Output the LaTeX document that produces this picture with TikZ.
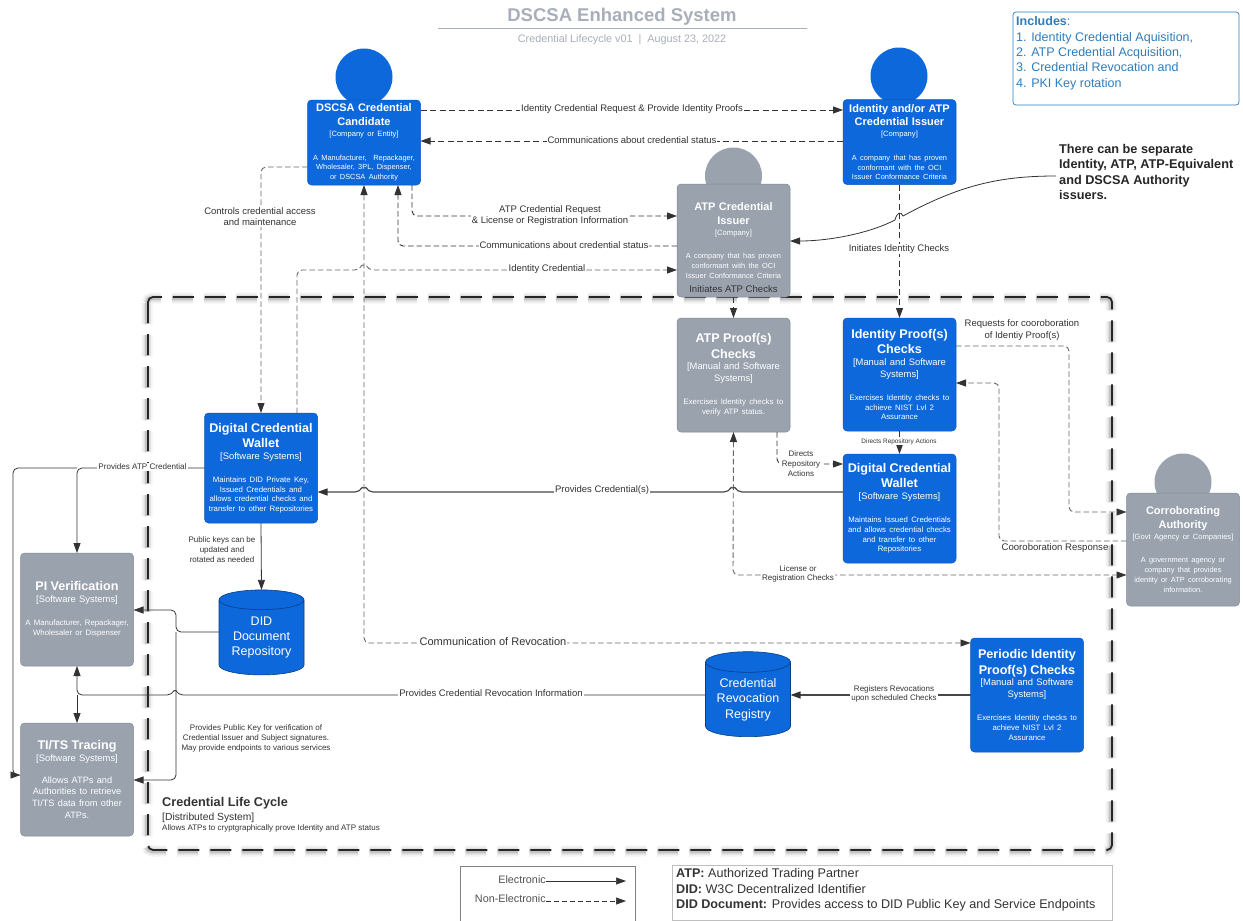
\documentclass[tikz,border=0pt]{standalone}
\usepackage{fontspec}
\setmainfont{Liberation Sans}
\usetikzlibrary{arrows.meta,shapes.geometric}
\definecolor{cblue}{HTML}{0D68DC}
\definecolor{cgray}{HTML}{9AA2AE}
\definecolor{cdark}{HTML}{333333}
\definecolor{cmid}{HTML}{666666}
\definecolor{ctitle}{HTML}{A8AFBA}
\definecolor{cinc}{HTML}{2F7DBB}
\newcommand\fs[2]{\fontsize{#1}{#2}\selectfont}
\newcommand\smbox[3]{{\fs{11}{13.4}\bfseries #1\par}{\fs{7.6}{11}#2\par}\vspace{14pt}{\fs{7.4}{9.7}#3\par}}
\newcommand\lgbox[3]{{\fs{12.6}{15.2}\bfseries #1\par}{\fs{9.4}{11.8}#2\par}\vspace{13.5pt}{\fs{7.8}{9.7}#3\par}}
\tikzset{
  x=1pt,y=-1pt,
  boxbase/.style={rectangle,rounded corners=4pt,text=white,align=center,inner sep=0pt,outer sep=0pt,text width=113pt},
  bluebox/.style={boxbase,fill=cblue,draw=cblue!85!black,line width=.5pt},
  graybox/.style={boxbase,fill=cgray,draw=cgray!85!black,line width=.5pt},
  bluehead/.style={ellipse,fill=cblue,minimum width=57pt,minimum height=57pt,inner sep=0pt},
  grayhead/.style={ellipse,fill=cgray,minimum width=57pt,minimum height=57pt,inner sep=0pt},
  store/.style={cylinder,shape border rotate=90,aspect=.33,fill=cblue,draw=cblue!60!black,line width=.6pt,text=white,align=center,inner sep=0pt,outer sep=0pt,font=\fs{12.5}{15.3}},
  darktip/.tip={Triangle[length=10pt,width=7pt,color=cdark,fill=cdark]},
  tipped/.style={-darktip},
  bothtip/.style={darktip-darktip},
  solidline/.style={draw=cdark,line width=.8pt,rounded corners=5pt},
  boldsolid/.style={draw=cmid!70!black,line width=1.2pt,rounded corners=5pt},
  dashline/.style={draw=cdark,line width=.9pt,dash pattern=on 6pt off 3.5pt,rounded corners=5pt},
  lightdash/.style={draw=cmid,line width=.9pt,dash pattern=on 5.5pt off 3pt,rounded corners=5pt},
  lab/.style={fill=white,text=cdark,align=center,inner sep=1pt,font=\fs{9.5}{11.2}},
  smalllab/.style={lab,font=\fs{8}{9.8}},
  plain/.style={text=cdark,align=left,inner sep=0pt},
}
\begin{document}
\begin{tikzpicture}
\useasboundingbox (0,0) rectangle (1243,921);
\fill[white] (0,0) rectangle (1243,921);
% title
\node[text=ctitle,font=\fs{18.5}{20}\bfseries] (title) at (622,16.5) {DSCSA Enhanced System};
\draw[ctitle,line width=.8pt] (438,28.5) -- (807,28.5);
\node[text=ctitle,font=\fs{10.8}{12}] (subtitle) at (622,39.5) {Credential Lifecycle v01\ \ |\ \ August 23, 2022};
% includes
\node[draw=cinc,rounded corners=3pt,line width=.7pt,minimum width=226pt,minimum height=93pt,inner sep=0pt] (includes) at (1126,58.5) {};
\node[text=cinc,align=left,anchor=north west,inner sep=0pt,font=\fs{12.5}{15.4}] (inctext) at (1016,16.5) {\textbf{Includes}:\\1. Identity Credential Aquisition,\\2. ATP Credential Acquisition,\\3. Credential Revocation and\\4. PKI Key rotation};
% note
\node[plain,anchor=north west,font=\fs{12.7}{15.4}\bfseries,text=black!85] (note) at (1059,144) {There can be separate\\Identity, ATP, ATP-Equivalent\\and DSCSA Authority\\issuers.};
% frame
\foreach \w/\o in {11/.05,7/.08,4/.12}
  \draw[black,opacity=\o,line width=\w pt,dash pattern=on 21pt off 11pt,rounded corners=5pt] (147,298) rectangle (1111,851);
\draw[black!85,line width=1.8pt,dash pattern=on 21pt off 11pt,rounded corners=5pt] (148,297) rectangle (1112,850);
% heads
\node[bluehead] (h1) at (364,77) {};
\node[bluehead] (h2) at (899,76) {};
\node[grayhead] (h3) at (733.5,176) {};
\node[grayhead] (h4) at (1183,482) {};
% boxes
\node[bluebox,minimum height=85pt] (cand) at (364,142.5) {\smbox{DSCSA Credential\\Candidate}{[Company or Entity]}{A Manufacturer,\ \ Repackager,\\Wholesaler, 3PL, Dispenser,\\or DSCSA Authority}};
\node[bluebox,minimum height=85pt] (issuer) at (899.5,142) {\smbox{Identity and/or ATP\\Credential Issuer}{[Company]}{A company that has proven\\conformant with the OCI\\Issuer Conformance Criteria}};
\node[graybox,minimum height=113pt] (atpiss) at (733.5,240.5) {\smbox{ATP Credential\\Issuer}{[Company]}{A company that has proven\\conformant with the OCI\\Issuer Conformance Criteria}};
\node[graybox,minimum height=114pt] (atpproof) at (733.5,375) {\lgbox{ATP Proof(s)\\Checks}{[Manual and Software\\Systems]}{Exercises Identity checks to\\verify ATP status.}};
\node[bluebox,minimum height=113pt] (idproof) at (899.5,374.5) {\lgbox{Identity Proof(s)\\Checks}{[Manual and Software\\Systems]}{Exercises Identity checks to\\achieve NIST Lvl 2\\Assurance}};
\node[bluebox,minimum height=109pt] (wallr) at (899.5,508.5) {\lgbox{Digital Credential\\Wallet}{[Software Systems]}{Maintains Issued Credentials\\and allows credential checks\\and transfer to other\\Repositories}};
\node[graybox,minimum height=113pt] (corr) at (1183,549.5) {\smbox{Corroborating\\Authority}{[Govt Agency or Companies]}{A government agency or\\company that provides\\identity or ATP corroborating\\information.}};
\node[bluebox,minimum height=110pt] (walll) at (261,468) {\lgbox{Digital Credential\\Wallet}{[Software Systems]}{Maintains DID Private Key,\\Issued Credentials and\\allows credential checks and\\transfer to other Repositories}};
\node[graybox,minimum height=113pt] (piv) at (77,609.5) {\lgbox{PI Verification}{[Software Systems]}{A Manufacturer, Repackager,\\Wholesaler or Dispenser}};
\node[graybox,minimum height=113pt] (tits) at (77,779.5) {{\fs{12.6}{15.2}\bfseries TI/TS Tracing\par}{\fs{9.4}{11.8}[Software Systems]\par}\vspace{10pt}{\fs{9.2}{11.6}Allows ATPs and\\Authorities to retrieve\\TI/TS data from other\\ATPs.\par}};
\node[bluebox,minimum height=114pt] (period) at (1027,695) {\lgbox{Periodic Identity\\Proof(s) Checks}{[Manual and Software\\Systems]}{Exercises Identity checks to\\achieve NIST Lvl 2\\Assurance}};
\node[store,minimum width=85pt,minimum height=85pt] (did) at (261.5,637.5) {DID\\Document\\Repository};
\node[store,minimum width=85pt,minimum height=85pt] (crr) at (748,699.5) {Credential\\Revocation\\Registry};
% dashed connectors
\draw[dashline,tipped] (cand.east |- 0,110) -- (issuer.west |- 0,110);
\draw[dashline,tipped] (issuer.west |- 0,141) -- (cand.east |- 0,141);
\draw[lightdash,tipped,draw=cdark] (412,185) -- (412,216) -- (atpiss.west |- 0,216);
\draw[lightdash,tipped,draw=cdark] (atpiss.west |- 0,246) -- (398,246) -- (398,185);
\draw[lightdash,tipped] (297,413) -- (297,270) -- (360,270) .. controls (362,265) and (366,265) .. (368,270) -- (atpiss.west |- 0,270);
\draw[lightdash,bothtip] (cand.south) -- (364,643) -- (period.west |- 0,643);
\draw[lightdash,tipped] (cand.west |- 0,167) -- (261,167) -- (walll.north);
\draw[dashline,tipped] (issuer.south) -- (idproof.north);
\draw[dashline,tipped] (atpiss.south) -- (atpproof.north);
\draw[lightdash,tipped] (idproof.east |- 0,346) -- (1069,346) -- (1069,512) -- (corr.west |- 0,512);
\draw[lightdash,tipped] (corr.west |- 0,541) -- (999,541) -- (999,383) -- (idproof.east |- 0,383);
\draw[dashline,tipped] (idproof.south) -- (wallr.north);
\draw[lightdash,tipped,draw=cdark] (777,432) -- (777,464) -- (wallr.west |- 0,464);
\draw[lightdash,bothtip] (atpproof.south) -- (733,575) -- (corr.west |- 0,575);
% solid connectors
\draw[solidline,tipped,rounded corners=0pt] (1056,176) .. controls (1000,176) and (960,185) .. (903,216) .. controls (901,211) and (897,212) .. (895,220) .. controls (870,233) and (830,241) .. (atpiss.east |- 0,241);
\draw[boldsolid,tipped] (wallr.west |- 0,492) -- (737,492) .. controls (735,488) and (731,488) .. (729,492) -- (368,492) .. controls (366,488) and (362,488) .. (360,492) -- (walll.east |- 0,492);
\draw[solidline,tipped] (walll.west |- 0,468) -- (77,468) -- (piv.north);
\draw[solidline,tipped] (77,468) -- (13,468) -- (13,775) -- (tits.west |- 0,775);
\draw[solidline,tipped] (walll.south) -- (did.north);
\draw[solidline,tipped] (did.west |- 0,632) -- (176,632) -- (176,610) -- (piv.east |- 0,610);
\draw[solidline,tipped] (176,632) -- (176,780) -- (tits.east |- 0,780);
\draw[solidline,tipped] (crr.west |- 0,695) -- (178,695) .. controls (176,691) and (174,691) .. (172,695) -- (77,695) -- (piv.south);
\draw[solidline,tipped] (77,695) -- (tits.north);
\draw[boldsolid,tipped] (period.west |- 0,695) -- (crr.east |- 0,695);
% labels
\node[lab] (l1) at (632,109) {Identity Credential Request \& Provide Identity Proofs};
\node[lab] (l2) at (632,140.5) {Communications about credential status};
\node[lab] (l3) at (550,215.5) {ATP Credential Request\\\& License or Registration Information};
\node[lab] (l4) at (564,245.5) {Communications about credential status};
\node[lab] (l5) at (547,269) {Identity Credential};
\node[lab] (l6) at (260,217) {Controls credential access\\and maintenance};
\node[lab] (l7) at (899,249) {Initiates Identity Checks};
\node[plain,font=\fs{9.6}{11}] (l8) at (733.5,289) {Initiates ATP Checks};
\node[lab] (l9) at (1022,330) {Requests for cooroboration\\of Identiy Proof(s)};
\node[plain,font=\fs{9.6}{11}] (l10) at (1055,548.5) {Cooroboration Response};
\node[smalllab,font=\fs{6.4}{8}] (l11) at (899,441.5) {Directs Repository Actions};
\node[smalllab] (l12) at (801,463.5) {Directs\\Repository\\Actions};
\node[lab,font=\fs{9.5}{11}] (l13) at (602,490) {Provides Credential(s)};
\node[smalllab] (l14) at (798,574) {License or\\Registration Checks};
\node[lab,font=\fs{8.1}{10}] (l15) at (142.5,467) {Provides ATP Credential};
\node[smalllab,fill=none] (l16) at (222,549.5) {Public keys can be\\updated and\\rotated as needed};
\node[lab,font=\fs{11}{13}] (l17) at (493,641.5) {Communication of Revocation};
\node[lab] (l18) at (491,693.5) {Provides Credential Revocation Information};
\node[smalllab] (l19) at (894,694) {Registers Revocations\\upon scheduled Checks};
\node[smalllab,fill=none] (l20) at (256,738.5) {Provides Public Key for verification of\\Credential Issuer and Subject signatures.\\May provide endpoints to various services};
% system label
\node[plain,anchor=north west,font=\fs{12.7}{15}\bfseries] (sys) at (162,797) {Credential Life Cycle};
\node[plain,anchor=north west,font=\fs{10.3}{12}] (sys2) at (162,812.5) {[Distributed System]};
\node[plain,anchor=north west,font=\fs{8}{10}] (sys3) at (162,824.5) {Allows ATPs to cryptgraphically prove Identity and ATP status};
% legend
\draw[black!50,line width=.7pt] (460,921) -- (460,866) -- (635,866) -- (635,921);
\node[plain,anchor=east,font=\fs{10.8}{12},text=cmid!80!black] (e1) at (546,880) {Electronic};
\node[plain,anchor=east,font=\fs{10.8}{12},text=cmid!80!black] (e2) at (546,899) {Non-Electronic};
\coordinate (e1end) at (626,881);
\coordinate (e2end) at (626,901);
\draw[cdark,line width=.7pt,tipped] (e1.east |- e1end) -- (e1end);
\draw[cdark,line width=.7pt,dash pattern=on 5pt off 3pt,tipped] (e2.east |- e2end) -- (e2end);
\draw[black!25,line width=.7pt] (672,920) rectangle (1112,865);
\node[plain,anchor=north west,font=\fs{12.6}{15.4}] (defs) at (676,868.5) {\textbf{ATP:} Authorized Trading Partner\\\textbf{DID:} W3C Decentralized Identifier\\\textbf{DID Document:} Provides access to DID Public Key and Service Endpoints};
\end{tikzpicture}
\end{document}
